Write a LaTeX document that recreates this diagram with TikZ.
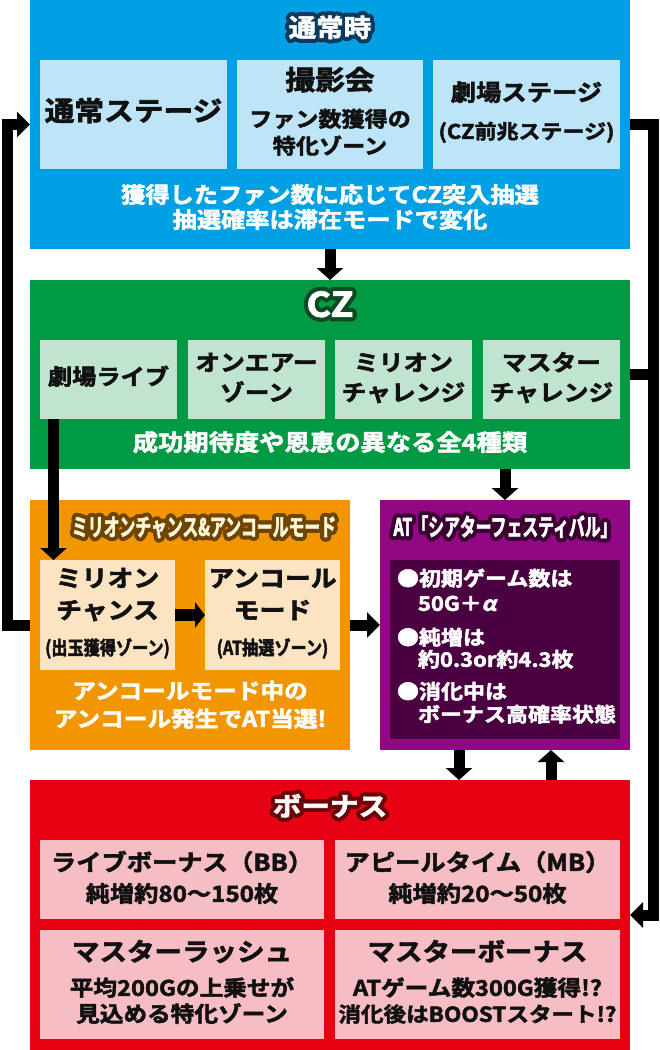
\documentclass[tikz,border=0pt]{standalone}
\usepackage{fontspec}
\setmainfont{Noto Sans CJK JP}
\newfontfamily\hv{Noto Sans CJK JP Bold}[FakeStretch=1.1, FakeBold=2.4]
\newfontfamily\hvi{Noto Sans CJK JP Bold}[FakeStretch=1.1, FakeBold=2.4, FakeSlant=0.2]
\newfontfamily\hvc{Noto Sans CJK JP Bold}[FakeStretch=0.66, FakeBold=2.4]
\newfontfamily\hvm{Noto Sans CJK JP Bold}[FakeStretch=0.85, FakeBold=2.4]
\usetikzlibrary{arrows.meta}
\definecolor{cblue}{HTML}{00A0E4}
\definecolor{cblueL}{HTML}{BEE4F8}
\definecolor{cblueD}{HTML}{0B3A5C}
\definecolor{cgreen}{HTML}{009A44}
\definecolor{cgreenL}{HTML}{C0E4D0}
\definecolor{cgreenD}{HTML}{0B4A22}
\definecolor{corange}{HTML}{F29600}
\definecolor{corangeL}{HTML}{FCE4C2}
\definecolor{corangeD}{HTML}{6E4500}
\definecolor{ccream}{HTML}{FFF6D8}
\definecolor{cpurple}{HTML}{920783}
\definecolor{cpurpleD}{HTML}{4A0040}
\definecolor{cpurpleO}{HTML}{3A0030}
\definecolor{cred}{HTML}{E60012}
\definecolor{credL}{HTML}{F7BDC5}
\definecolor{credD}{HTML}{6B0008}
\definecolor{ink}{HTML}{111111}
\newcommand\outl[3]{%
  \leavevmode
  \foreach \a in {0,15,...,345}{%
    \pgfmathsetlengthmacro\dx{4pt*cos(\a)}%
    \pgfmathsetlengthmacro\dy{4pt*sin(\a)}%
    \rlap{\kern\dx\raise\dy\hbox{\color{#1}#3}}}%
  \foreach \a in {0,30,...,330}{%
    \pgfmathsetlengthmacro\dx{2pt*cos(\a)}%
    \pgfmathsetlengthmacro\dy{2pt*sin(\a)}%
    \rlap{\kern\dx\raise\dy\hbox{\color{#1}#3}}}%
  \hbox{\color{#2}#3}}
\newcommand\fs[1]{\hv\fontsize{#1}{#1}\selectfont}
\tikzset{
  panel/.style={rectangle, inner sep=0pt, outer sep=0pt, anchor=north west, draw=none},
  txt/.style={inner sep=0pt, outer sep=0pt, text height=0.83em, text depth=0.07em, text=ink},
  wtxt/.style={txt, text=white},
  ttl/.style={inner sep=0pt, outer sep=0pt, text height=0.83em, text depth=0.07em},
  conn/.style={line width=11pt, draw=black},
  tipH/.style={-{Triangle[width=25pt,length=13pt]}},
  tipV/.style={-{Triangle[width=26pt,length=12pt]}},
}
\begin{document}
\begin{tikzpicture}[x=1pt,y=-1pt]
\useasboundingbox (0,0) rectangle (660,1050);
\fill[white] (0,0) rectangle (660,1050);
% ---------------- blue: normal
\node[panel, fill=cblue, minimum width=600pt, minimum height=249pt] (normal) at (30,0) {};
\node[ttl, font=\fs{25}] (tN) at (330,33) {\outl{cblueD}{white}{通常時}};
\node[panel, fill=cblueL, minimum width=187pt, minimum height=109pt] (n1) at (40,60) {};
\node[panel, fill=cblueL, minimum width=186pt, minimum height=109pt] (n2) at (237,60) {};
\node[panel, fill=cblueL, minimum width=187pt, minimum height=109pt] (n3) at (433,60) {};
\node[txt, font=\fs{27}] (tA) at (133.5,117) {通常ステージ};
\node[txt, font=\fs{27}] (tB1) at (330,86) {撮影会};
\node[txt, font=\fs{21}] (tB2) at (330,123) {ファン数獲得の};
\node[txt, font=\fs{21}] (tB3) at (330,150) {特化ゾーン};
\node[txt, font=\fs{23}] (tC1) at (526.5,97) {劇場ステージ};
\node[txt, font=\fs{20}] (tC2) at (526.5,135) {(CZ前兆ステージ)};
\node[wtxt, font=\fs{22}] (tD1) at (330,199) {獲得したファン数に応じてCZ突入抽選};
\node[wtxt, font=\fs{22}] (tD2) at (330,224) {抽選確率は滞在モードで変化};
% ---------------- green: CZ
\node[panel, fill=cgreen, minimum width=600pt, minimum height=189pt] (cz) at (30,280) {};
\node[ttl, font=\fs{34}] (tCZ) at (330,313) {\outl{cgreenD}{white}{CZ}};
\node[panel, fill=cgreenL, minimum width=137pt, minimum height=79pt] (g1) at (40,340) {};
\node[panel, fill=cgreenL, minimum width=137pt, minimum height=79pt] (g2) at (188,340) {};
\node[panel, fill=cgreenL, minimum width=137pt, minimum height=79pt] (g3) at (335,340) {};
\node[panel, fill=cgreenL, minimum width=137pt, minimum height=79pt] (g4) at (483,340) {};
\node[txt, font=\fs{22}] (tg1) at (108.5,381) {劇場ライブ};
\node[txt, font=\fs{22.5}] (tg2a) at (256.5,367) {オンエアー};
\node[txt, font=\fs{22.5}] (tg2b) at (256.5,397) {ゾーン};
\node[txt, font=\fs{22.5}] (tg3a) at (403.5,367) {ミリオン};
\node[txt, font=\fs{22.5}] (tg3b) at (403.5,397) {チャレンジ};
\node[txt, font=\fs{22.5}] (tg4a) at (551.5,367) {マスター};
\node[txt, font=\fs{22.5}] (tg4b) at (551.5,397) {チャレンジ};
\node[wtxt, font=\fs{23}] (tgc) at (330,447) {成功期待度や恩恵の異なる全4種類};
% ---------------- orange
\node[panel, fill=corange, minimum width=320pt, minimum height=250pt] (orange) at (30,500) {};
\node[ttl, font=\hvc\fontsize{24}{24}\selectfont] (tO) at (204,532) {\outl{corangeD}{ccream}{ミリオンチャンス\&アンコールモード}};
\node[panel, fill=corangeL, minimum width=135pt, minimum height=110pt] (mc) at (40,560) {};
\node[panel, fill=corangeL, minimum width=135pt, minimum height=110pt] (enc) at (205,560) {};
\node[txt, font=\fs{23.5}] (tm1) at (107.5,583) {ミリオン};
\node[txt, font=\fs{23.5}] (tm2) at (107.5,615) {チャンス};
\node[txt, font=\hvm\fontsize{19}{19}\selectfont] (tm3) at (107.5,651) {(出玉獲得ゾーン)};
\node[txt, font=\fs{23.5}] (te1) at (272.5,583) {アンコール};
\node[txt, font=\fs{23.5}] (te2) at (272.5,615) {モード};
\node[txt, font=\hvm\fontsize{19}{19}\selectfont] (te3) at (272.5,651) {(AT抽選ゾーン)};
\node[wtxt, font=\fs{21.5}] (to1) at (190,695) {アンコールモード中の};
\node[wtxt, font=\fs{21.5}] (to2) at (190,723) {アンコール発生でAT当選!};
% ---------------- purple
\node[panel, fill=cpurple, minimum width=250pt, minimum height=250pt] (at) at (380,500) {};
\node[ttl, font=\hvc\fontsize{24}{24}\selectfont] (tAT) at (505,532) {\outl{cpurpleO}{white}{AT「シアターフェスティバル」}};
\node[panel, fill=cpurpleD, minimum width=230pt, minimum height=179pt] (atin) at (390,560) {};
\node[wtxt, anchor=west, font=\fs{20}] (ta1) at (397,582) {●初期ゲーム数は};
\node[wtxt, anchor=west, font=\fs{20}] (ta2) at (418,607) {50G＋{\hvi α}};
\node[wtxt, anchor=west, font=\fs{20}] (ta3) at (397,641) {●純増は};
\node[wtxt, anchor=west, font=\fs{20}] (ta4) at (418,663) {約0.3or約4.3枚};
\node[wtxt, anchor=west, font=\fs{20}] (ta5) at (397,695) {●消化中は};
\node[wtxt, anchor=west, font=\fs{20}] (ta6) at (418,718) {ボーナス高確率状態};
% ---------------- red: bonus
\node[panel, fill=cred, minimum width=600pt, minimum height=270pt] (bonus) at (30,780) {};
\node[ttl, font=\fs{26}] (tBo) at (330,812) {\outl{credD}{white}{ボーナス}};
\node[panel, fill=credL, minimum width=284pt, minimum height=79pt] (b1) at (40,840) {};
\node[panel, fill=credL, minimum width=285pt, minimum height=79pt] (b2) at (335,840) {};
\node[panel, fill=credL, minimum width=284pt, minimum height=109pt] (b3) at (40,930) {};
\node[panel, fill=credL, minimum width=285pt, minimum height=109pt] (b4) at (335,930) {};
\node[txt, font=\fs{23}] (tb1a) at (182,867) {ライブボーナス（BB）};
\node[txt, font=\fs{22}] (tb1b) at (182,898) {純増約80〜150枚};
\node[txt, font=\fs{23}] (tb2a) at (477.5,867) {アピールタイム（MB）};
\node[txt, font=\fs{22}] (tb2b) at (477.5,898) {純増約20〜50枚};
\node[txt, font=\fs{25}] (tb3a) at (182,957) {マスターラッシュ};
\node[txt, font=\fs{21.5}] (tb3b) at (182,992) {平均200Gの上乗せが};
\node[txt, font=\fs{21.5}] (tb3c) at (182,1018) {見込める特化ゾーン};
\node[txt, font=\fs{25}] (tb4a) at (477.5,957) {マスターボーナス};
\node[txt, font=\fs{21.5}] (tb4b) at (477.5,992) {ATゲーム数300G獲得!?};
\node[txt, font=\fs{20.5}] (tb4c) at (477.5,1018) {消化後はBOOSTスタート!?};
% ---------------- connectors
\coordinate (L) at (7,0);
\coordinate (R) at (653.5,915);
\draw[conn, tipH] (orange.west) -- (orange.west -| L) |- (normal.west);
\draw[conn, tipH] (normal.east) -| (R) -- (bonus.east);
\draw[conn] (cz.east) -- (cz.east -| R);
\draw[conn, tipV] (normal.south) -- (cz.north);
\draw[conn, tipV] (cz.south -| at.north) -- (at.north);
\coordinate (d1) at ([xshift=13.5pt]g1.south west);
\draw[conn, tipV] (d1) -- (d1 |- mc.north);
\draw[line width=12pt, -{Triangle[width=25pt,length=10pt]}] (mc.east) -- (enc.west);
\draw[conn, tipH] (orange.east) -- (at.west);
\coordinate (p1) at ([xshift=-46pt]at.south);
\coordinate (p2) at ([xshift=46pt]at.south);
\draw[conn, tipV] (p1) -- (p1 |- bonus.north);
\draw[conn, tipV] (p2 |- bonus.north) -- (p2);
\end{tikzpicture}
\end{document}
